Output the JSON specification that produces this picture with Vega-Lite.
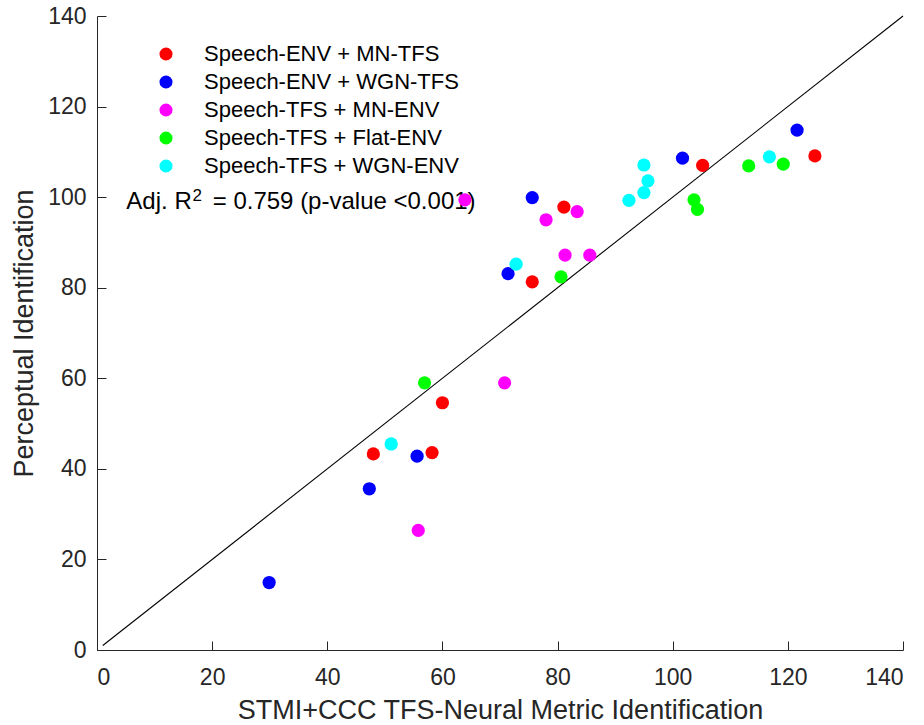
{
  "$schema": "https://vega.github.io/schema/vega-lite/v6.json",
  "width": 806,
  "height": 634,
  "autosize": "none",
  "padding": {"left": 97, "top": 16, "right": 21, "bottom": 75},
  "background": "white",
  "config": {
    "view": {"stroke": null},
    "font": "Liberation Sans",
    "axis": {
      "grid": false,
      "domainColor": "#262626",
      "domainWidth": 1,
      "tickColor": "#262626",
      "tickSize": -9,
      "labelColor": "#262626",
      "labelFont": "Liberation Sans",
      "labelFontSize": 23,
      "titleFont": "Liberation Sans",
      "titleFontSize": 27,
      "titleFontWeight": "normal",
      "titleColor": "#262626"
    }
  },
  "datasets": {
    "pts": [
      {"x": 48.0, "y": 43.3, "group": "Speech-ENV + MN-TFS"},
      {"x": 58.2, "y": 43.6, "group": "Speech-ENV + MN-TFS"},
      {"x": 60.0, "y": 54.6, "group": "Speech-ENV + MN-TFS"},
      {"x": 75.6, "y": 81.3, "group": "Speech-ENV + MN-TFS"},
      {"x": 81.1, "y": 97.8, "group": "Speech-ENV + MN-TFS"},
      {"x": 105.2, "y": 107.0, "group": "Speech-ENV + MN-TFS"},
      {"x": 124.7, "y": 109.1, "group": "Speech-ENV + MN-TFS"},
      {"x": 29.9, "y": 14.9, "group": "Speech-ENV + WGN-TFS"},
      {"x": 47.3, "y": 35.6, "group": "Speech-ENV + WGN-TFS"},
      {"x": 55.6, "y": 42.8, "group": "Speech-ENV + WGN-TFS"},
      {"x": 71.4, "y": 83.1, "group": "Speech-ENV + WGN-TFS"},
      {"x": 75.6, "y": 99.9, "group": "Speech-ENV + WGN-TFS"},
      {"x": 101.7, "y": 108.6, "group": "Speech-ENV + WGN-TFS"},
      {"x": 121.6, "y": 114.8, "group": "Speech-ENV + WGN-TFS"},
      {"x": 55.8, "y": 26.4, "group": "Speech-TFS + MN-ENV"},
      {"x": 70.8, "y": 59.0, "group": "Speech-TFS + MN-ENV"},
      {"x": 63.9, "y": 99.4, "group": "Speech-TFS + MN-ENV"},
      {"x": 78.0, "y": 95.0, "group": "Speech-TFS + MN-ENV"},
      {"x": 81.3, "y": 87.2, "group": "Speech-TFS + MN-ENV"},
      {"x": 83.4, "y": 96.8, "group": "Speech-TFS + MN-ENV"},
      {"x": 85.6, "y": 87.2, "group": "Speech-TFS + MN-ENV"},
      {"x": 56.9, "y": 59.0, "group": "Speech-TFS + Flat-ENV"},
      {"x": 80.6, "y": 82.4, "group": "Speech-TFS + Flat-ENV"},
      {"x": 103.7, "y": 99.4, "group": "Speech-TFS + Flat-ENV"},
      {"x": 104.3, "y": 97.3, "group": "Speech-TFS + Flat-ENV"},
      {"x": 113.2, "y": 106.9, "group": "Speech-TFS + Flat-ENV"},
      {"x": 119.2, "y": 107.3, "group": "Speech-TFS + Flat-ENV"},
      {"x": 51.1, "y": 45.5, "group": "Speech-TFS + WGN-ENV"},
      {"x": 72.8, "y": 85.2, "group": "Speech-TFS + WGN-ENV"},
      {"x": 92.4, "y": 99.3, "group": "Speech-TFS + WGN-ENV"},
      {"x": 95.0, "y": 101.0, "group": "Speech-TFS + WGN-ENV"},
      {"x": 95.7, "y": 103.6, "group": "Speech-TFS + WGN-ENV"},
      {"x": 95.0, "y": 107.1, "group": "Speech-TFS + WGN-ENV"},
      {"x": 116.8, "y": 108.9, "group": "Speech-TFS + WGN-ENV"}
    ],
    "diag": [{"x": 1, "y": 1}, {"x": 140, "y": 140}],
    "note": [
      {"x": 5.1, "y": 97.3, "label": "Adj. R"},
      {"x": 20.1, "y": 97.3, "label": "= 0.759 (p-value <0.001)"}
    ],
    "sup": [{"x": 16.6, "y": 99.2, "label": "2"}]
  },
  "layer": [
    {
      "data": {"name": "diag"},
      "mark": {"type": "line", "color": "black", "strokeWidth": 1.1},
      "encoding": {
        "x": {"field": "x", "type": "quantitative", "scale": {"domain": [0, 140], "nice": false}, "axis": {"values": [0, 20, 40, 60, 80, 100, 120, 140], "title": "STMI+CCC TFS-Neural Metric Identification", "labelPadding": 25, "titlePadding": 8}},
        "y": {"field": "y", "type": "quantitative", "scale": {"domain": [0, 140], "nice": false}, "axis": {"values": [0, 20, 40, 60, 80, 100, 120, 140], "title": "Perceptual Identification", "labelPadding": 20, "titlePadding": 9}}
      }
    },
    {
      "data": {"name": "note"},
      "mark": {"type": "text", "align": "left", "baseline": "alphabetic", "fontSize": 24, "font": "Liberation Sans", "color": "black"},
      "encoding": {
        "x": {"field": "x", "type": "quantitative"},
        "y": {"field": "y", "type": "quantitative"},
        "text": {"field": "label"}
      }
    },
    {
      "data": {"name": "sup"},
      "mark": {"type": "text", "align": "left", "baseline": "alphabetic", "fontSize": 17, "font": "Liberation Sans", "color": "black"},
      "encoding": {
        "x": {"field": "x", "type": "quantitative"},
        "y": {"field": "y", "type": "quantitative"},
        "text": {"field": "label"}
      }
    },
    {
      "data": {"name": "pts"},
      "mark": {"type": "circle", "opacity": 1, "size": 175},
      "encoding": {
        "x": {"field": "x", "type": "quantitative"},
        "y": {"field": "y", "type": "quantitative"},
        "color": {
          "field": "group",
          "type": "nominal",
          "scale": {
            "domain": ["Speech-ENV + MN-TFS", "Speech-ENV + WGN-TFS", "Speech-TFS + MN-ENV", "Speech-TFS + Flat-ENV", "Speech-TFS + WGN-ENV"],
            "range": ["#ff0000", "#0000ff", "#ff00ff", "#00ff00", "#00ffff"]
          },
          "legend": {
            "title": null,
            "orient": "none",
            "legendX": 58,
            "legendY": 27,
            "symbolType": "circle",
            "symbolSize": 170,
            "symbolStrokeWidth": 0,
            "labelFontSize": 22,
            "labelFont": "Liberation Sans",
            "labelColor": "black",
            "labelOffset": 27,
            "rowPadding": 6,
            "labelLimit": 400
          }
        }
      }
    }
  ]
}
